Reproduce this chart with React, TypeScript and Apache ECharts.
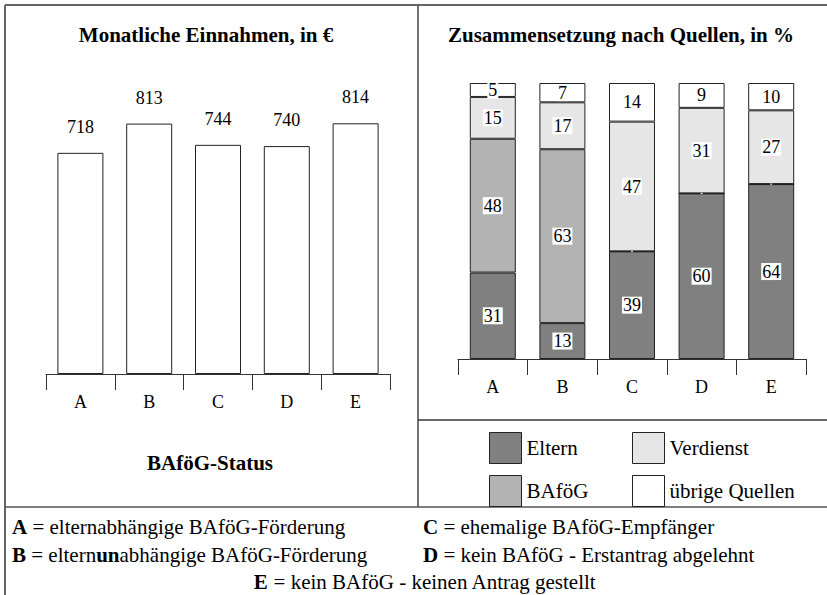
import React, { useEffect, useRef } from "react";
import * as echarts from "echarts";

const categories = ["A", "B", "C", "D", "E"];
const income = [718, 813, 744, 740, 814];
const eltern = [31, 13, 39, 60, 64];
const bafoeg = [48, 63, 0, 0, 0];
const verdienst = [15, 17, 47, 31, 27];
const uebrige = [5, 7, 14, 9, 10];

const seriesNames = ["Eltern", "BAföG", "Verdienst", "übrige Quellen"];
const seriesColors = ["#808080", "#b3b3b3", "#e6e6e6", "#ffffff"];

const FONT = "Liberation Serif";

export default function App() {
  const ref = useRef<HTMLDivElement>(null);
  useEffect(() => {
    if (!ref.current) return;
    const chart = echarts.init(ref.current, undefined, { renderer: "svg" });
    const raw = [eltern, bafoeg, verdienst, uebrige];
    const totals = categories.map((_, i) => raw.reduce((s, arr) => s + arr[i], 0));

    const stackSeries = raw.map((arr, si) => ({
      name: seriesNames[si],
      type: "bar",
      stack: "quellen",
      xAxisIndex: 1,
      yAxisIndex: 1,
      barWidth: 46,
      data: arr.map((v, i) => (v * 100) / totals[i]),
      itemStyle: { color: seriesColors[si], borderColor: "#222", borderWidth: 1 },
      label: {
        show: true,
        position: "inside",
        formatter: (p: any) => (arr[p.dataIndex] ? String(arr[p.dataIndex]) : ""),
        fontFamily: FONT,
        fontSize: 18,
        color: "#000",
        backgroundColor: "#fff",
        padding: [0, 1, -1, 1],
        lineHeight: 18,
      },
    }));

    const frameLine = (x1: number, y1: number, x2: number, y2: number, w = 1.5, c = "#555") => ({
      type: "line",
      shape: { x1, y1, x2, y2 },
      style: { stroke: c, lineWidth: w },
      silent: true,
    });

    const txt = (x: number, y: number, text: string, align: string, font: string, rich?: any) => ({
      type: "text",
      x,
      y,
      style: {
        text,
        align,
        verticalAlign: "middle",
        font,
        fill: "#000",
        rich,
      },
    });
    const rich = { b: { font: "bold 21px Liberation Serif", fill: "#000" } };

    chart.setOption({
      animation: false,
      backgroundColor: "#fff",
      grid: [
        { left: 46, top: 66, width: 344, height: 308 },
        { left: 458, top: 83, width: 348, height: 276 },
      ],
      xAxis: [
        {
          type: "category",
          gridIndex: 0,
          data: categories,
          axisLine: { lineStyle: { color: "#333", width: 1 } },
          axisTick: { show: true, length: 16, lineStyle: { color: "#333" } },
          axisLabel: { fontFamily: FONT, fontSize: 18, color: "#000", margin: 19 },
        },
        {
          type: "category",
          gridIndex: 1,
          data: categories,
          axisLine: { lineStyle: { color: "#333", width: 1 } },
          axisTick: { show: true, length: 16, lineStyle: { color: "#333" } },
          axisLabel: { fontFamily: FONT, fontSize: 18, color: "#000", margin: 19 },
        },
      ],
      yAxis: [
        { type: "value", gridIndex: 0, min: 0, max: 1000, show: false, splitLine: { show: false } },
        { type: "value", gridIndex: 1, min: 0, max: 100, show: false, splitLine: { show: false } },
      ],
      legend: [
        {
          orient: "vertical",
          left: 484,
          top: 427,
          itemWidth: 32,
          itemHeight: 31,
          itemGap: 11,
          icon: "rect",
          data: ["Eltern", "BAföG"],
          itemStyle: { borderColor: "#222", borderWidth: 1 },
          textStyle: { fontFamily: FONT, fontSize: 21, color: "#000" },
          selectedMode: false,
        },
        {
          orient: "vertical",
          left: 627,
          top: 427,
          itemWidth: 32,
          itemHeight: 31,
          itemGap: 11,
          icon: "rect",
          data: ["Verdienst", "übrige Quellen"],
          itemStyle: { borderColor: "#222", borderWidth: 1 },
          textStyle: { fontFamily: FONT, fontSize: 21, color: "#000" },
          selectedMode: false,
        },
      ],
      series: [
        {
          name: "Monatliche Einnahmen",
          type: "bar",
          xAxisIndex: 0,
          yAxisIndex: 0,
          barWidth: 46,
          data: income,
          itemStyle: { color: "#fff", borderColor: "#222", borderWidth: 1 },
          label: {
            show: true,
            position: "top",
            distance: 17,
            fontFamily: FONT,
            fontSize: 18,
            color: "#000",
          },
        },
        ...stackSeries,
      ],
      graphic: [
        frameLine(5, 5, 827, 5, 2, "#666"),
        frameLine(5, 5, 5, 595, 2, "#666"),
        frameLine(418, 5, 418, 507, 1.5, "#444"),
        frameLine(5, 507, 827, 507, 1.5, "#555"),
        frameLine(418, 420, 827, 420, 1.5, "#333"),
        txt(206, 35, "Monatliche Einnahmen, in €", "center", "bold 21px Liberation Serif"),
        txt(621, 35, "Zusammensetzung nach Quellen, in %", "center", "bold 21px Liberation Serif"),
        txt(210, 463, "BAföG-Status", "center", "bold 21px Liberation Serif"),
        txt(12, 527, "{b|A} = elternabhängige BAföG-Förderung", "left", "21px Liberation Serif", rich),
        txt(12, 555, "{b|B} = eltern{b|un}abhängige BAföG-Förderung", "left", "21px Liberation Serif", rich),
        txt(423, 527, "{b|C} = ehemalige BAföG-Empfänger", "left", "21px Liberation Serif", rich),
        txt(423, 555, "{b|D} = kein BAföG - Erstantrag abgelehnt", "left", "21px Liberation Serif", rich),
        txt(425, 582, "{b|E} = kein BAföG - keinen Antrag gestellt", "center", "21px Liberation Serif", rich),
      ],
    });
    return () => chart.dispose();
  }, []);
  return (
    <div
      ref={ref}
      style={{ position: "fixed", left: 0, top: 0, width: 827, height: 595, background: "#fff" }}
    />
  );
}
